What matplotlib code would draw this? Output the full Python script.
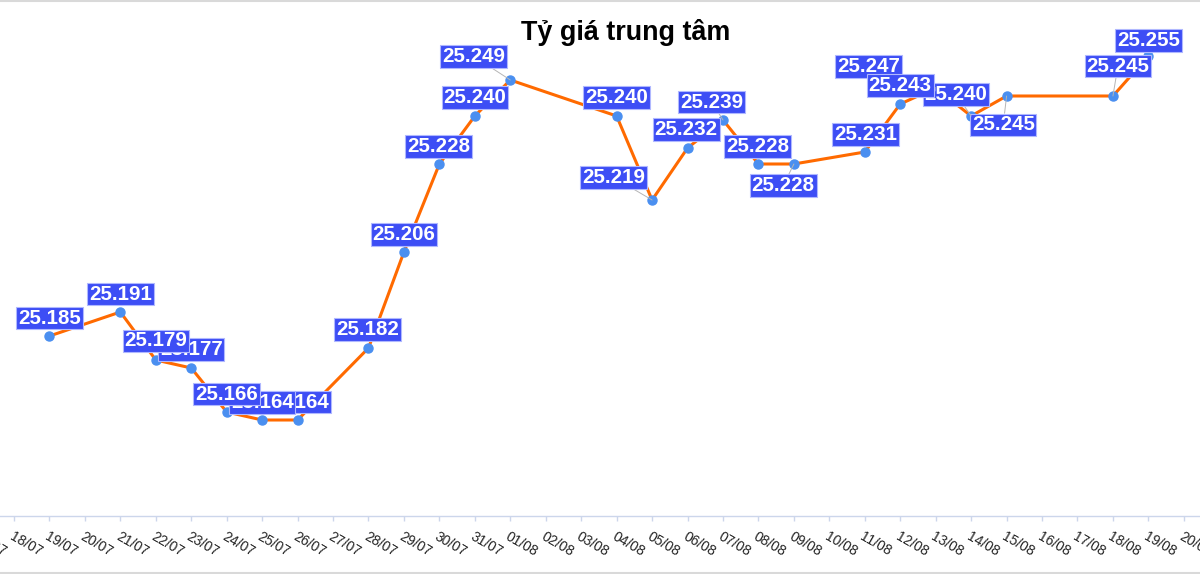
import matplotlib
matplotlib.use("Agg")
import matplotlib.pyplot as plt
import matplotlib.dates as mdates
import pandas as pd

plt.rcParams['font.family'] = ['Liberation Sans', 'DejaVu Sans']

# dữ liệu tỷ giá trung tâm (VND/USD)
dates = ['19/07', '21/07', '22/07', '23/07', '24/07', '25/07', '26/07', '28/07',
         '29/07', '30/07', '31/07', '01/08', '04/08', '05/08', '06/08', '07/08',
         '08/08', '09/08', '11/08', '12/08', '13/08', '14/08', '15/08', '18/08',
         '19/08']
rates = [25185, 25191, 25179, 25177, 25166, 25164, 25164, 25182,
         25206, 25228, 25240, 25249, 25240, 25219, 25232, 25239,
         25228, 25228, 25231, 25243, 25247, 25240, 25245, 25245,
         25255]
year = 2025
axis_start = '17/07'
axis_end = '20/08'

# vị trí nhãn (pixel, so với điểm) - nhãn bị đẩy có đường nối
label_offsets = [(0, 18), (0, 18), (0, 19), (0, 18.5), (0, 18), (0, 17.5), (0, 18), (-1, 18.5),
                 (0, 17.5), (-1, 17.5), (0, 18.3), (-36.7, 23.8), (0, 18.3), (-38.3, 22.5),
                 (-1.3, 18.2), (-11.3, 18), (-0.8, 17.8), (-10.7, -21.7), (0.7, 17.7),
                 (0, 18.7), (-67, 21.2), (-15, 21.7), (-3.4, -29), (5, 30), (0.4, 15.8)]
connector = [False] * 11 + [True] + [False] + [True] + [False, True, False, True, False,
                                                        False, True, True, True, True, False]

x = mdates.date2num(pd.to_datetime([d + '/' + str(year) for d in dates], format='%d/%m/%Y'))
ticks = pd.date_range(pd.to_datetime(axis_start + '/' + str(year), format='%d/%m/%Y'),
                      pd.to_datetime(axis_end + '/' + str(year), format='%d/%m/%Y'))
tick_x = mdates.date2num(ticks)
tick_labels = [t.strftime('%d/%m') for t in ticks]

fig = plt.figure(figsize=(12, 5.74), dpi=100)
ax = fig.add_axes([0, 58 / 574, 1, 516 / 574])

ax.plot(x, rates, color='#ff6a00', lw=2.2, zorder=3, solid_joinstyle='round')
ax.plot(x, rates, 'o', color='#4a8ff0', ms=6.5, zorder=4)

for i, (xi, v) in enumerate(zip(x, rates)):
    txt = f'{v:,}'.replace(',', '.')
    dx, dy = label_offsets[i]
    arrow = dict(arrowstyle='-', color='#b5b5b5', lw=0.7, shrinkA=0, shrinkB=0) if connector[i] else None
    ax.annotate(txt, xy=(xi, v), xytext=(dx, dy), textcoords='offset pixels',
                ha='center', va='center', color='white', fontsize=14.8, fontweight='bold',
                bbox=dict(boxstyle='square,pad=0.09', fc='#3d4ef5', ec='#b0b8ff', lw=0.8),
                arrowprops=arrow, zorder=100 - i)

ax.set_xticks(tick_x)
ax.set_xticklabels(tick_labels, rotation=-30, ha='left', va='top',
                   rotation_mode='anchor', fontsize=10, color='#222222')
ax.tick_params(axis='x', direction='out', length=3.6, width=1, color='#ccd6eb', pad=6)
ax.set_yticks([])

day0 = tick_x[1]
ax.set_xlim(day0 - 0.395, day0 + 33.456)
ax.set_ylim(25140, 25269)

# nhãn đầu tiên nằm ngoài khung, chỉ thấy một phần
ax.annotate(tick_labels[0], xy=(tick_x[0], 0), xycoords=ax.get_xaxis_transform(),
            xytext=(0, -9.6), textcoords='offset points', annotation_clip=False,
            rotation=-30, ha='left', va='top', rotation_mode='anchor',
            fontsize=10, color='#222222')

for s in ['top', 'left', 'right']:
    ax.spines[s].set_visible(False)
ax.spines['bottom'].set_color('#ccd6eb')
ax.spines['bottom'].set_linewidth(1)
ax.patch.set_alpha(0)

fig.text(626 / 1200, 1 - 40 / 574, 'Tỷ giá trung tâm', ha='center', va='baseline',
         fontsize=19.4, fontweight='bold', color='black')

# viền trên và dưới
fig.add_artist(plt.Line2D([0, 1], [1 - 0.5 / 574, 1 - 0.5 / 574], color='#d9d9d9', lw=1.5))
fig.add_artist(plt.Line2D([0, 1], [1.5 / 574, 1.5 / 574], color='#d9d9d9', lw=1.5))

fig.savefig('out.png', dpi=100)
